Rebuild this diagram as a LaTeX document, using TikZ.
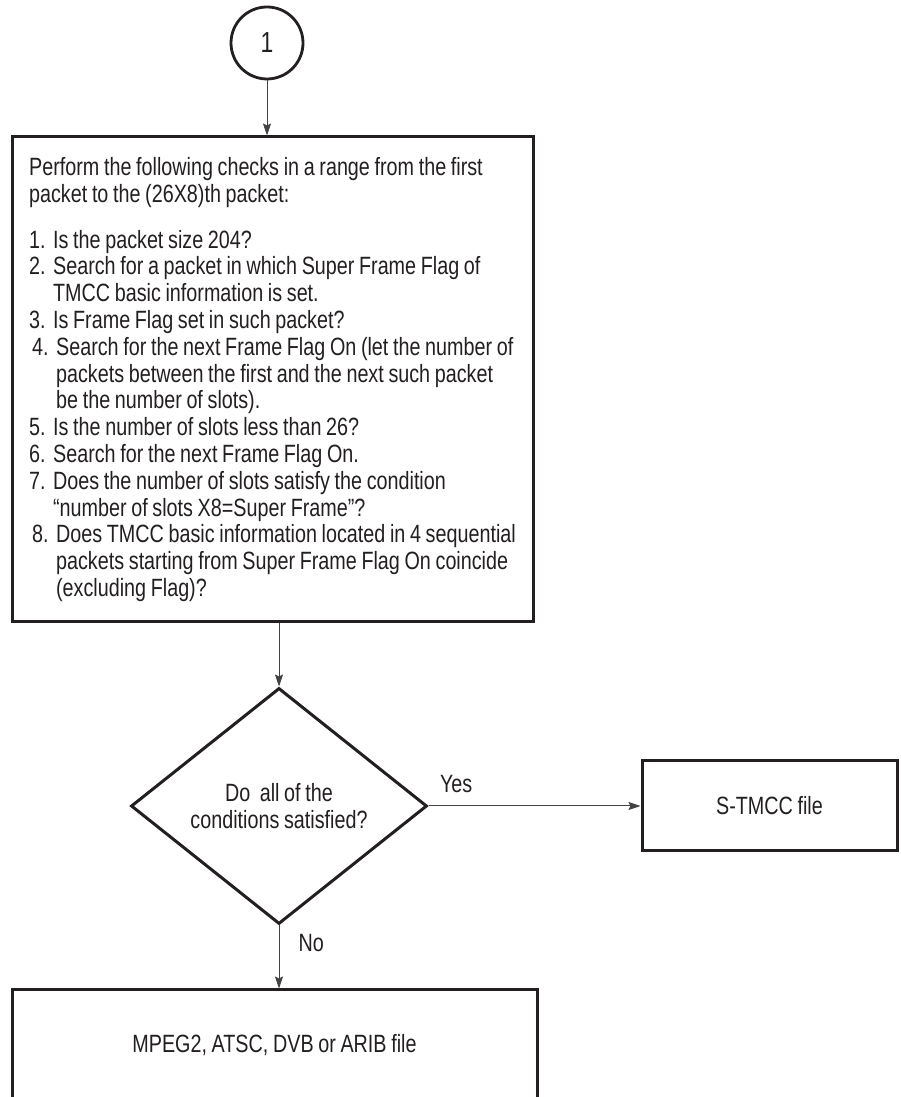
\documentclass[tikz,border=0pt]{standalone}
\usepackage{fontspec}
\setmainfont{Liberation Sans}[FakeStretch=0.79, WordSpace=0.85]
\usetikzlibrary{shapes.geometric, arrows.meta, positioning}
\definecolor{inkgray}{HTML}{231f20}
\newcommand{\chkitem}[2]{\makebox[24pt][l]{#1}#2}
\newcommand{\chkcont}{\hspace*{24pt}}

\begin{document}
\begin{tikzpicture}[x=1pt, y=1pt, font=\fontsize{25}{26.8}\selectfont, text=inkgray,
  flowbox/.style={draw=inkgray, line width=3pt, rectangle, align=center, inner sep=0pt},
  flowline/.style={draw=inkgray!85, line width=1pt, -{Stealth[length=12pt, width=8pt, inset=2pt]}}]
\useasboundingbox (0,0) rectangle (901,1097);
\node[draw=inkgray, line width=2.8pt, circle, minimum size=72pt, inner sep=0pt, font=\fontsize{29}{30}\selectfont] (start) at (267,1054) {1};
\node[flowbox, minimum width=521pt, minimum height=485pt, align=left] (checks) at (272.5,717.5) {Perform the following checks in a range from the first\\
packet to the (26X8)th packet:\\[19pt]
\chkitem{1.}{Is the packet size 204?}\\
\chkitem{2.}{Search for a packet in which Super Frame Flag of}\\
\chkcont TMCC basic information is set.\\
\chkitem{3.}{Is Frame Flag set in such packet?}\\
\hspace*{3pt}\chkitem{4.}{Search for the next Frame Flag On (let the number of}\\
\hspace*{3pt}\chkcont packets between the first and the next such packet\\
\hspace*{3pt}\chkcont be the number of slots).\\
\chkitem{5.}{Is the number of slots less than 26?}\\
\chkitem{6.}{Search for the next Frame Flag On.}\\
\chkitem{7.}{Does the number of slots satisfy the condition}\\
\chkcont “number of slots X8=Super Frame”?\\
\hspace*{3pt}\chkitem{8.}{Does TMCC basic information located in 4 sequential}\\
\hspace*{3pt}\chkcont packets starting from Super Frame Flag On coincide\\
\hspace*{3pt}\chkcont (excluding Flag)?};
\node[draw=inkgray, line width=3pt, diamond, aspect=1.254, minimum width=296pt, minimum height=236pt, inner sep=0pt, align=center] (cond) at (279,291) {Do\ \ all of the\\conditions satisfied?};
\node[flowbox, minimum width=255pt, minimum height=90pt] (stmcc) at (769.5,291) {S-TMCC file};
\node[flowbox, minimum width=525pt, minimum height=110pt] (other) at (274.5,52) {MPEG2, ATSC, DVB or ARIB file};
\node[anchor=base west] (yes) at ([xshift=8pt, yshift=13pt]cond.east) {Yes};
\node[anchor=base west] (no) at ([xshift=16pt, yshift=-26pt]cond.south) {No};
\draw[flowline] (start) -- (start |- checks.north);
\draw[flowline] (checks.south -| cond.north) -- (cond.north);
\draw[flowline] (cond.east) -- (stmcc.west);
\draw[flowline] (cond.south) -- (cond.south |- other.north);
\end{tikzpicture}
\end{document}
